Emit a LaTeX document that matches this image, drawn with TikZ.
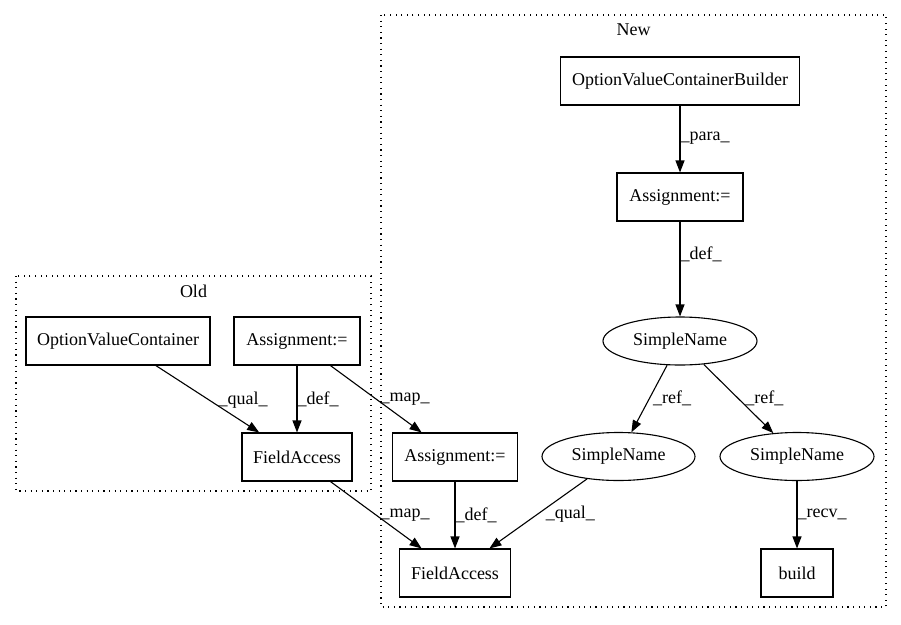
\documentclass[tikz,border=0pt]{standalone}
\usepackage{fontspec}
\setmainfont{Liberation Serif}
\usetikzlibrary{arrows.meta,shapes.geometric}
\begin{document}
\begin{tikzpicture}[x=1pt,y=-1pt,
  font=\fontsize{18}{20}\selectfont,
  box/.style={draw,line width=1.1pt,minimum height=48pt,inner sep=0pt},
  ell/.style={draw,ellipse,line width=1.1pt,minimum height=48pt,inner sep=0pt},
  cluster/.style={line width=1.1pt,dash pattern=on 1.1pt off 4.5pt},
  edge/.style={line width=1.1pt,-{Triangle[length=12pt,width=9pt]}},
  lbl/.style={inner sep=0pt,anchor=west}]
\useasboundingbox (0,0) rectangle (901,624);
% clusters
\draw[cluster] (16,276) rectangle (371,491);
\draw[cluster] (381,15) rectangle (886,607);
\node (oldlbl) at (193.5,291) {Old};
\node (newlbl) at (633.5,30) {New};
% nodes
\node[box,minimum width=184pt] (ovc) at (118,341) {OptionValueContainer};
\node[box,minimum width=126pt] (asgO) at (297,341) {Assignment:=};
\node[box,minimum width=110pt] (faO) at (297,457) {FieldAccess};
\node[box,minimum width=239pt] (ovcb) at (680,81) {OptionValueContainerBuilder};
\node[box,minimum width=126pt] (asgN) at (680,197) {Assignment:=};
\node[ell,minimum width=154pt] (snT) at (680,341) {SimpleName};
\node[ell,minimum width=153pt] (snM) at (618.5,456.5) {SimpleName};
\node[ell,minimum width=154pt] (snR) at (797,456.5) {SimpleName};
\node[box,minimum width=125pt] (asgL) at (455,457) {Assignment:=};
\node[box,minimum width=111pt] (faN) at (455,573) {FieldAccess};
\node[box,minimum width=72pt] (build) at (797,573) {build};
% edges
\draw[edge] (ovc) -- node[lbl,pos=0.515,xshift=9pt] {\_qual\_} (faO);
\draw[edge] (asgO) -- node[lbl,pos=0.5] {\_def\_} (faO);
\draw[edge] (asgO) -- node[lbl,pos=0.5,xshift=4pt] {\_map\_} (asgL);
\draw[edge] (faO) -- node[lbl,pos=0.5,xshift=4pt] {\_map\_} (faN);
\draw[edge] (asgL) -- node[lbl,pos=0.5] {\_def\_} (faN);
\draw[edge] (snM) -- node[lbl,pos=0.51,xshift=8pt] {\_qual\_} (faN);
\draw[edge] (ovcb) -- node[lbl,pos=0.49] {\_para\_} (asgN);
\draw[edge] (asgN) -- node[lbl,pos=0.35] {\_def\_} (snT);
\draw[edge] (snT) -- node[lbl,pos=0.49,xshift=3pt] {\_ref\_} (snM);
\draw[edge] (snT) -- node[lbl,pos=0.49,xshift=7pt] {\_ref\_} (snR);
\draw[edge] (snR) -- node[lbl,pos=0.5] {\_recv\_} (build);
\end{tikzpicture}
\end{document}
